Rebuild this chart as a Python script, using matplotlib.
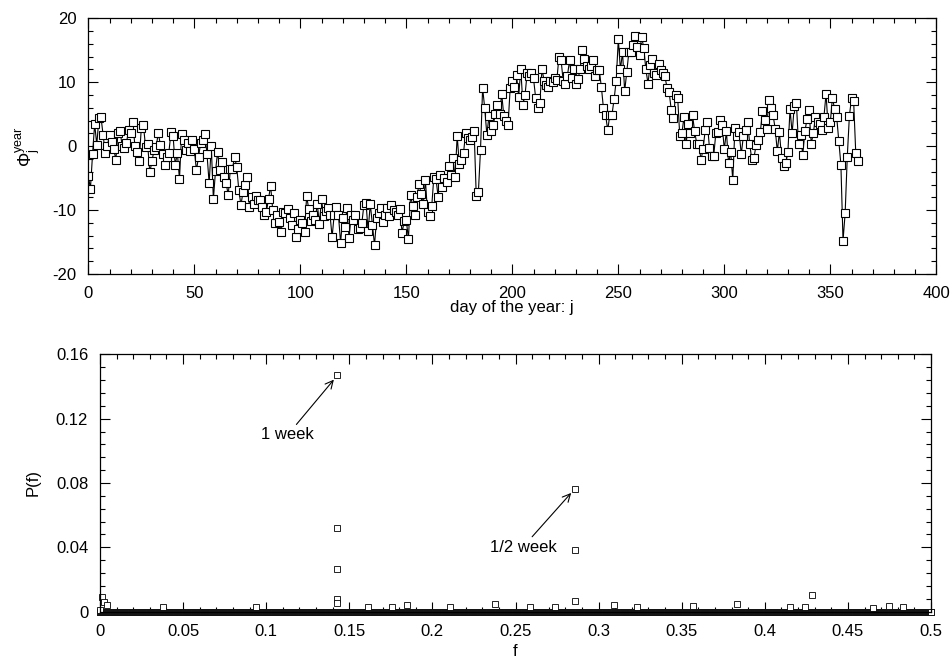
import numpy as np
import matplotlib
matplotlib.use("Agg")
import matplotlib.pyplot as plt
from matplotlib.ticker import MultipleLocator, FuncFormatter

plt.rcParams['font.family'] = ['Liberation Sans', 'DejaVu Sans']
plt.rcParams['mathtext.fontset'] = 'custom'
plt.rcParams['mathtext.rm'] = 'Liberation Sans'
plt.rcParams['mathtext.it'] = 'Liberation Sans'
plt.rcParams['font.size'] = 12

# daily index Phi_j for one year
phi_year = [
    -4.6, -6.7, -1.3, 3.5, 0.2, 4.4, 4.5, 1.7, -1.1, 0.0,
    1.8, 0.6, -0.5, -2.1, 2.0, 2.3, 0.0, -0.3, 0.5, 2.5,
    2.0, 3.7, 0.0, -0.9, -2.3, 2.8, 3.3, -0.1, 0.3, -4.1,
    -2.4, -0.6, -0.2, 2.1, 0.2, -1.2, -3.0, -1.7, -1.0, 2.2,
    1.6, -3.0, -1.0, -5.2, 1.9, 0.9, -0.6, 0.5, -0.8, 1.0,
    -0.5, -3.8, -1.7, 0.5, 0.9, 1.9, -1.3, -5.8, 0.0, -8.3,
    -3.9, -0.9, -3.7, -2.5, -4.8, -5.7, -7.7, -3.6, -3.5, -1.7,
    -3.2, -6.9, -9.2, -7.1, -6.0, -4.8, -9.5, -8.0, -9.0, -7.8,
    -8.5, -8.4, -9.5, -10.8, -10.3, -8.3, -6.2, -10.0, -12.1, -10.8,
    -11.8, -13.4, -10.3, -10.4, -9.8, -11.2, -12.3, -10.5, -14.2, -12.9,
    -11.5, -12.0, -13.4, -7.8, -9.9, -11.7, -10.8, -11.6, -9.0, -12.2,
    -8.3, -11.0, -10.2, -9.7, -10.7, -14.2, -10.7, -9.5, -10.8, -15.1,
    -11.3, -12.6, -9.7, -14.4, -10.8, -11.5, -10.7, -12.9, -12.8, -12.1,
    -9.2, -8.9, -13.3, -9.0, -12.3, -15.5, -11.3, -10.4, -9.7, -11.9,
    -10.7, -9.7, -11.0, -9.2, -10.0, -10.3, -10.8, -9.8, -13.6, -11.7,
    -11.6, -14.5, -7.7, -9.3, -10.8, -8.0, -5.9, -7.5, -9.1, -5.3,
    -10.3, -11.0, -9.4, -4.8, -5.1, -7.9, -4.5, -6.4, -5.0, -5.6,
    -3.1, -4.5, -1.8, -4.9, 1.6, -2.8, -2.2, -1.0, 2.1, 1.3,
    1.0, 1.5, 2.3, -7.8, -7.2, -0.6, 9.1, 5.9, 1.8, 4.7,
    2.3, 3.3, 5.0, 6.5, 5.1, 8.2, 4.7, 4.0, 3.3, 9.1,
    10.2, 9.3, 11.1, 7.7, 12.1, 6.5, 8.0, 11.4, 11.0, 11.5,
    10.6, 7.6, 6.0, 6.8, 12.1, 10.2, 9.5, 9.3, 10.2, 10.0,
    10.7, 10.3, 14.0, 13.5, 10.2, 9.8, 11.0, 13.4, 10.7, 12.0,
    9.8, 10.5, 12.0, 15.0, 13.7, 12.6, 12.0, 12.6, 13.5, 11.0,
    11.9, 11.9, 9.3, 5.9, 4.9, 2.5, 4.9, 4.9, 7.3, 10.2,
    16.7, 12.0, 14.7, 8.6, 11.6, 14.8, 14.7, 15.8, 17.3, 15.5,
    14.3, 17.1, 15.4, 12.0, 9.8, 12.7, 13.7, 11.4, 11.1, 12.8,
    11.9, 11.5, 10.9, 9.1, 8.4, 5.6, 4.4, 8.0, 7.6, 1.6,
    2.0, 4.6, 0.4, 3.5, 2.1, 4.9, 2.3, 0.4, 0.4, -2.2,
    -0.4, 2.5, 3.7, -0.3, -1.5, -1.5, 2.0, 2.2, 4.1, 3.3,
    -0.5, 2.3, -2.7, -0.9, -5.3, 2.8, 1.6, 2.2, -1.3, 1.6,
    2.6, 3.7, 0.3, -2.2, -1.8, 0.2, 0.9, 2.2, 5.5, 4.1,
    2.7, 7.2, 5.9, 4.9, 2.7, -0.8, 2.2, -1.8, -3.1, -2.7,
    -0.9, 5.8, 2.0, 6.3, 6.8, 0.3, 1.7, -1.4, 2.3, 4.2,
    5.6, 0.4, 2.0, 4.6, 3.8, 3.5, 2.5, 4.6, 8.2, 2.8,
    3.7, 7.6, 5.8, 4.6, 0.8, -2.9, -14.8, -10.5, -1.7, 4.7,
    7.5, 7.1, -1.0, -2.4,
]
days = np.arange(len(phi_year))

# power spectrum: the weekly lines and their neighbours
peak_f = [1/7, 1/7, 1/7, 1/7, 1/7, 2/7, 2/7, 2/7, 3/7]
peak_p = [0.1469, 0.0523, 0.0264, 0.0077, 0.0052, 0.0764, 0.0384, 0.0068, 0.0104]

# small values standing out of the noise floor
small_f = [0.0, 0.0012, 0.0025, 0.004, 0.038, 0.094, 0.161, 0.1755, 0.185,
           0.2106, 0.2377, 0.2587, 0.274, 0.309, 0.323, 0.357, 0.383, 0.415,
           0.424, 0.465, 0.475, 0.483]
small_p = [0.0008, 0.0093, 0.0062, 0.004, 0.003, 0.003, 0.003, 0.003, 0.004,
           0.003, 0.0048, 0.003, 0.003, 0.004, 0.003, 0.0037, 0.0046, 0.003,
           0.003, 0.0025, 0.0037, 0.003]

# noise floor of the spectrum, P ~ 0 on a fine frequency grid
floor_f = np.linspace(0.0, 0.5, 2401)
floor_p = np.zeros_like(floor_f)

W, H = 951, 666
fig = plt.figure(figsize=(W / 100, H / 100), dpi=100)


def px_axes(left, top, right, bottom):
    return fig.add_axes([left / W, 1 - bottom / H, (right - left) / W, (bottom - top) / H])


def style(ax):
    ax.tick_params(which='both', direction='in', top=True, right=True,
                   labelsize=12, pad=8.5, width=0.8)
    ax.tick_params(which='major', length=7)
    ax.tick_params(which='minor', length=3.5)
    for s in ax.spines.values():
        s.set_linewidth(0.9)
    fmt = FuncFormatter(lambda v, p: '%g' % round(v, 6))
    ax.xaxis.set_major_formatter(fmt)
    ax.yaxis.set_major_formatter(fmt)


# upper panel
ax1 = px_axes(88.3, 18.3, 936.3, 274.0)
ax1.plot(days, phi_year, color='black', lw=0.8, marker='s', ms=5.4,
         mfc='white', mec='black', mew=0.8)
ax1.set_xlim(0, 400)
ax1.set_ylim(-20, 20)
ax1.xaxis.set_major_locator(MultipleLocator(50))
ax1.xaxis.set_minor_locator(MultipleLocator(10))
ax1.yaxis.set_major_locator(MultipleLocator(10))
ax1.yaxis.set_minor_locator(MultipleLocator(2))
style(ax1)
ax1.set_xlabel('day of the year: j', fontsize=12, va='center')
ax1.xaxis.set_label_coords(0.5, -0.13)
ax1.set_ylabel(r'$\mathregular{\Phi_j^{year}}$', fontsize=13, va='center')
ax1.yaxis.set_label_coords(-0.071, 0.5)

# lower panel
ax2 = px_axes(100.0, 354.3, 931.0, 611.7)
ax2.plot(floor_f, floor_p, ls='none', marker='s', ms=5.0, mfc='white',
         mec='black', mew=0.6, clip_on=False)
ax2.plot(small_f, small_p, ls='none', marker='s', ms=5.0, mfc='white',
         mec='black', mew=0.6, clip_on=False)
ax2.plot(peak_f, peak_p, ls='none', marker='s', ms=5.0, mfc='white',
         mec='black', mew=0.6, clip_on=False)
ax2.set_xlim(0, 0.5)
ax2.set_ylim(0, 0.16)
ax2.xaxis.set_major_locator(MultipleLocator(0.05))
ax2.xaxis.set_minor_locator(MultipleLocator(0.01))
ax2.yaxis.set_major_locator(MultipleLocator(0.04))
ax2.yaxis.set_minor_locator(MultipleLocator(0.008))
style(ax2)
ax2.set_xlabel('f', fontsize=12, va='center')
ax2.xaxis.set_label_coords(0.5, -0.153)
ax2.set_ylabel('P(f)', fontsize=12, va='center')
ax2.yaxis.set_label_coords(-0.0806, 0.5)

arrow = dict(arrowstyle='->', color='black', lw=0.8, shrinkA=0, shrinkB=4,
             mutation_scale=14)
ax2.annotate('1 week', xy=(peak_f[0], peak_p[0]), xytext=(0.113, 0.110),
             ha='center', va='center', fontsize=12, arrowprops=arrow)
ax2.annotate('1/2 week', xy=(peak_f[5], peak_p[5]), xytext=(0.2545, 0.0402),
             ha='center', va='center', fontsize=12, arrowprops=arrow)

fig.savefig('out.png', dpi=100)
